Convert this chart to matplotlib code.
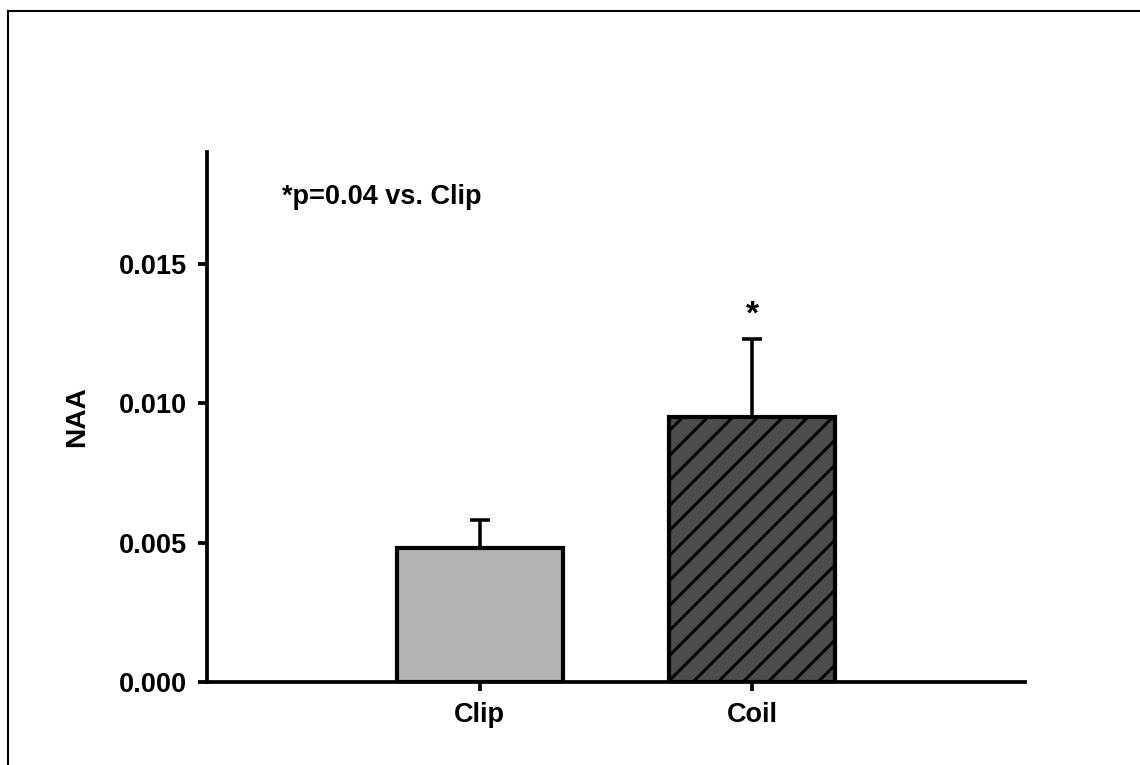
import matplotlib
matplotlib.use('Agg')
import matplotlib.pyplot as plt
from matplotlib.lines import Line2D

# Данные
groups = ['Clip', 'Coil']
naa_mean = [0.0048, 0.0095]
naa_err = [0.0010, 0.0028]
bar_colors = ['#b4b4b4', '#4d4d4d']
bar_hatches = ['', '//']
yticks = [0.0, 0.005, 0.010, 0.015]

plt.rcParams['font.family'] = ['Liberation Sans', 'DejaVu Sans']
plt.rcParams['font.weight'] = 'bold'
plt.rcParams['hatch.linewidth'] = 1.4

fig = plt.figure(figsize=(7.6, 5.1), dpi=150)
ax = fig.add_axes([0.1816, 0.1085, 0.7175, 0.6928])

x = [1, 2]
bars = ax.bar(x, naa_mean, width=0.61, color=bar_colors, edgecolor='black',
              linewidth=2.0, zorder=3)
for patch, h in zip(bars, bar_hatches):
    if h:
        patch.set_hatch(h)

ax.errorbar(x, naa_mean, yerr=[[0, 0], naa_err], fmt='none', ecolor='black',
            elinewidth=1.7, capsize=4.8, capthick=1.7, zorder=2)

# звездочка над Coil
ax.annotate('*', xy=(x[1], naa_mean[1] + naa_err[1]), xytext=(0, 4),
            textcoords='offset points', ha='center', va='bottom',
            fontsize=16, fontweight='bold')

ax.text(0.275, 0.0174, '*p=0.04 vs. Clip', fontsize=13, fontweight='bold',
        va='center', ha='left')

ax.set_xlim(0, 3)
ax.set_ylim(0, 0.019)
ax.set_xticks(x)
ax.set_xticklabels(groups)
ax.set_yticks(yticks)
ax.set_yticklabels(['%.3f' % v for v in yticks])

for s in ['top', 'right']:
    ax.spines[s].set_visible(False)
for s in ['left', 'bottom']:
    ax.spines[s].set_linewidth(1.8)

ax.tick_params(axis='both', direction='out', length=4.5, width=1.8,
               labelsize=13, pad=5)
for lbl in ax.get_xticklabels() + ax.get_yticklabels():
    lbl.set_fontweight('bold')

ax.set_ylabel('NAA', fontsize=13.5, fontweight='bold')
ax.yaxis.set_label_coords(-0.143, 0.5)

# рамка вокруг рисунка (только верх и лево видны)
fig.add_artist(Line2D([0.007, 1.0], [0.9856, 0.9856], transform=fig.transFigure,
                      color='black', linewidth=1.0))
fig.add_artist(Line2D([0.007, 0.007], [0.0, 0.9856], transform=fig.transFigure,
                      color='black', linewidth=1.0))

fig.savefig('out.png', dpi=150)
